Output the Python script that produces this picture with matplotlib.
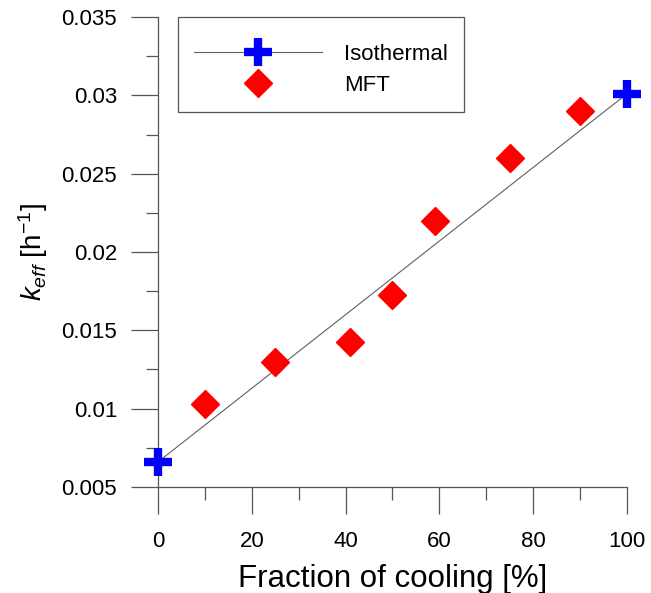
import matplotlib.pyplot as plt
from matplotlib.ticker import MultipleLocator, FixedLocator

plt.rcParams['font.family'] = ['Liberation Sans', 'DejaVu Sans']
plt.rcParams['mathtext.fontset'] = 'custom'
plt.rcParams['mathtext.rm'] = 'Liberation Sans'
plt.rcParams['mathtext.it'] = 'Liberation Sans:italic'

# isothermal end points and the MFT runs
iso_x = [0, 100]
iso_y = [0.0066, 0.0301]
mft_x = [10, 25, 41, 50, 59, 75, 90]
mft_y = [0.0103, 0.0130, 0.01425, 0.01725, 0.0220, 0.0260, 0.0290]

y_ticks = [0.005, 0.01, 0.015, 0.02, 0.025, 0.03, 0.035]
y_labels = ['0.005', '0.01', '0.015', '0.02', '0.025', '0.03', '0.035']

fig = plt.figure(figsize=(6.51, 5.93), dpi=100)
ax = fig.add_axes([0.2427, 0.1788, 0.7204, 0.7925])

ax.plot(iso_x, iso_y, color='#606060', lw=0.8, marker='+', ms=20,
        mew=6, mec='#0000ff', label='Isothermal', clip_on=False, zorder=3)
ax.plot(mft_x, mft_y, ls='none', marker='D', ms=14, color='#ff0000',
        mec='#ff0000', label='MFT', clip_on=False, zorder=3)

ax.set_xlim(0, 100)
ax.set_ylim(0.005, 0.035)
ax.xaxis.set_major_locator(MultipleLocator(20))
ax.xaxis.set_minor_locator(MultipleLocator(10))
ax.yaxis.set_major_locator(FixedLocator(y_ticks))
ax.set_yticklabels(y_labels)
ax.yaxis.set_minor_locator(MultipleLocator(0.0025))

for s in ['top', 'right']:
    ax.spines[s].set_visible(False)
for s in ['left', 'bottom']:
    ax.spines[s].set_color('#555555')
    ax.spines[s].set_linewidth(0.9)

ax.tick_params(which='major', length=19.5, width=0.9, color='#555555',
               labelsize=16, pad=10)
ax.tick_params(which='minor', length=9, width=0.9, color='#555555')
ax.tick_params(axis='x', which='major', pad=12)

ax.set_xlabel('Fraction of cooling [%]', fontsize=22.5, labelpad=9)
ax.set_ylabel('$k_{eff}$ [h$^{-1}$]', fontsize=20, labelpad=8)

# blank title just pushes the entries down a little inside the frame
leg = ax.legend(loc='upper left', bbox_to_anchor=(0.0426, 1.0), fontsize=16,
                handlelength=5.75, handletextpad=1.0, borderpad=0.72,
                labelspacing=0.45, fancybox=False, framealpha=1,
                borderaxespad=0, numpoints=1, title=' ', title_fontsize=1)
leg.get_frame().set_edgecolor('#555555')
leg.get_frame().set_linewidth(0.9)

plt.savefig('out.png', dpi=100)
